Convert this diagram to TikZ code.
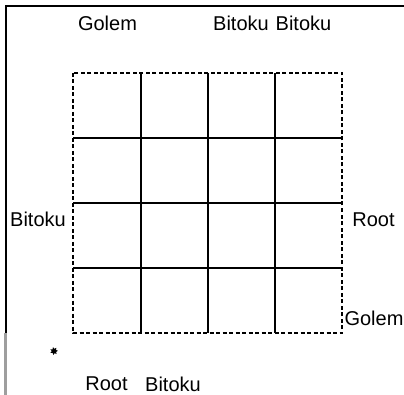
\documentclass[tikz,border=0pt]{standalone}
\usepackage{fontspec}
\setmainfont{Liberation Sans}
\usepackage{tikz}
\usetikzlibrary{backgrounds,shapes.geometric}
\tikzset{
  lbl/.style={inner sep=0pt, font=\fontsize{20}{24}\selectfont},
  cell/.style={line width=1.4pt},
  rim/.style={line width=1.4pt, dash pattern=on 4pt off 2.5pt},
}

\begin{document}
\begin{tikzpicture}[x=1pt,y=-1pt]
\useasboundingbox (0,0) rectangle (404,395);
% frame
\draw[line width=2pt] (6,333) -- (6,6) -- (405,6);
\draw[line width=3pt, black!38] (5.5,333) -- (5.5,396);
% board
\foreach \x in {141,208,275} \draw[cell] (\x,73) -- (\x,333);
\foreach \y in {138,203,268} \draw[cell] (73,\y) -- (342,\y);
\draw[rim] (73,73) rectangle (342,333);
% marker
\node[star, star points=7, star point ratio=1.8, fill=black, inner sep=0pt, minimum size=8pt, rotate=15] (mark) at (54,351) {};
% labels
\node[lbl] (golemN) at (107.5,23.5) {Golem};
\node[lbl] (bitokuNa) at (241,23.5) {Bitoku};
\node[lbl] (bitokuNb) at (303.5,23.5) {Bitoku};
\node[lbl] (bitokuW) at (38,219) {Bitoku};
\node[lbl] (rootE) at (373.5,219.5) {Root};
\node[lbl] (golemE) at (374,318) {Golem};
\node[lbl] (rootS) at (106.5,384) {Root};
\node[lbl] (bitokuS) at (173,384) {Bitoku};
\end{tikzpicture}
\end{document}
